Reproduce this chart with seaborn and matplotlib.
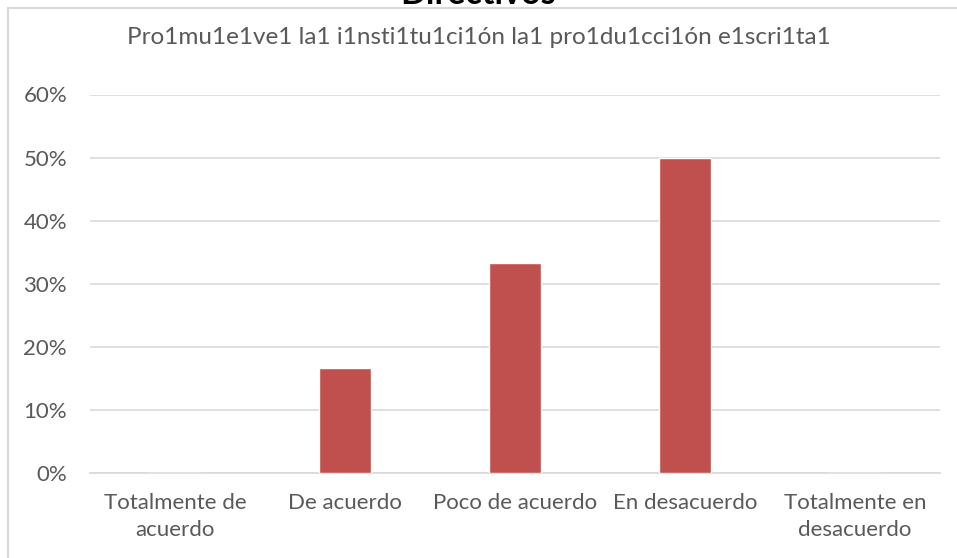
import matplotlib
matplotlib.use("Agg")
import matplotlib.pyplot as plt
import seaborn as sns
import pandas as pd
from matplotlib.lines import Line2D
from matplotlib.ticker import PercentFormatter

categories = ["Totalmente de\nacuerdo", "De acuerdo", "Poco de acuerdo", "En desacuerdo", "Totalmente en\ndesacuerdo"]
values = [0.0, 0.1667, 0.3333, 0.50, 0.0]
yticks = [0, 0.1, 0.2, 0.3, 0.4, 0.5, 0.6]
title = "Directivos"
subtitle = "Pro1mu1e1ve1 la1 i1nsti1tu1ci1ón la1 pro1du1cci1ón e1scri1ta1"

sns.set_theme(style="white")
plt.rcParams['font.family'] = ['Lato', 'DejaVu Sans']

df = pd.DataFrame({"cat": categories, "val": values})

fig = plt.figure(figsize=(9.57, 5.58), dpi=100)
ax = fig.add_axes([90/957, 1-473/558, 850/957, (473-94.5)/558])
sns.barplot(data=df, x="cat", y="val", order=categories, color="#C0504D",
            width=0.31, saturation=1, ax=ax, zorder=3)
ax.set_ylim(0, 0.6)
ax.set_xlim(-0.5, 4.5)
ax.set_yticks(yticks)
ax.yaxis.set_major_formatter(PercentFormatter(1.0, decimals=0))
ax.grid(axis="y", color="#D9D9D9", linewidth=1.2, zorder=0)
ax.set_axisbelow(True)
for s in ["top", "right", "left"]:
    ax.spines[s].set_visible(False)
ax.spines["bottom"].set_color("#D9D9D9")
ax.spines["bottom"].set_linewidth(1.2)
ax.set_xlabel("")
ax.set_ylabel("")
ax.tick_params(axis="both", colors="#595959", labelsize=16, length=0)
ax.tick_params(axis="y", pad=16.5)
ax.tick_params(axis="x", pad=14.5)
for lab in ax.get_xticklabels():
    lab.set_linespacing(1.45)

fig.text(0.5, 1-38/558, subtitle, ha="center", va="center", fontsize=17.5, color="#595959")
fig.text(0.5, 1-4/558, title, ha="center", va="baseline", fontsize=24.5, fontweight="bold", color="black")

fig.add_artist(Line2D([8/957, 8/957], [0, 1-8/558], color="#D9D9D9", linewidth=1.5))
fig.add_artist(Line2D([8/957, 1], [1-8/558, 1-8/558], color="#D9D9D9", linewidth=1.5))

fig.savefig("out.png", dpi=100)
